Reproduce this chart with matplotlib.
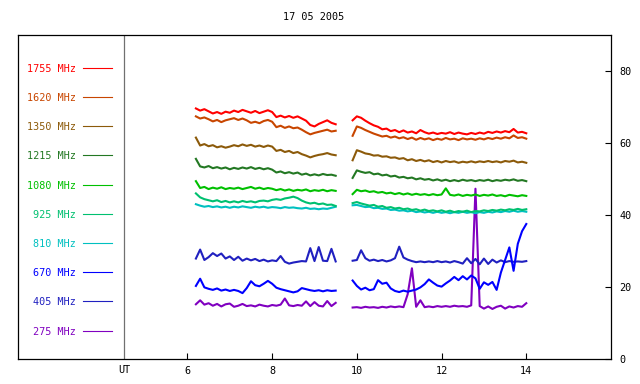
#flussi radio 17 05 2005
import numpy as np
import matplotlib
matplotlib.use("Agg")
import matplotlib.pyplot as plt

title = "17 05 2005"

freqs = ["1755", "1620", "1350", "1215", "1080", "925", "810", "670", "405", "275"]
colors = ["#ff0000", "#c84600", "#8c5a0a", "#237823", "#00c000",
          "#00c070", "#00c0c0", "#0000ff", "#2020c0", "#8000c0"]

#prima parte (6.2 - 9.5 UT), passo 0.1 h
t1_start, t1_end = 6.2, 9.5
#seconda parte (9.9 - 14.0 UT), passo 0.1 h
t2_start, t2_end = 9.9, 14.0

f1755_a = [69.6, 69.0, 69.4, 68.8, 68.2, 68.6, 68.1, 68.7, 68.4, 69.0,
           68.6, 69.2, 68.8, 68.4, 68.9, 68.3, 68.7, 69.1, 68.6, 67.2,
           67.6, 67.1, 67.5, 67.0, 67.4, 66.8, 66.2, 65.0, 64.6, 65.3,
           65.8, 66.3, 65.6, 65.2]
f1755_b = [66.3, 67.4, 67.0, 66.2, 65.5, 64.9, 64.5, 63.8, 64.0, 63.3,
           63.6, 63.0, 63.5, 62.9, 63.2, 62.7, 63.6, 63.0, 62.6, 62.9,
           62.5, 62.8, 62.6, 63.0, 62.5, 62.9, 62.6, 62.4, 62.8, 62.5,
           62.9, 62.6, 63.1, 62.8, 63.2, 62.9, 63.3, 63.0, 63.9, 62.9,
           63.1, 62.7]

f1620_a = [67.4, 66.8, 67.1, 66.6, 66.0, 66.4, 65.8, 66.3, 66.6, 66.9,
           66.4, 66.8, 66.3, 65.6, 65.9, 65.5, 66.1, 66.4, 65.9, 64.4,
           64.8, 64.2, 64.6, 64.1, 64.3, 63.7, 63.0, 62.4, 62.8, 63.1,
           63.4, 63.7, 63.2, 63.4]
f1620_b = [62.0, 64.6, 64.2, 63.6, 63.1, 62.6, 62.2, 61.8, 62.0, 61.5,
           61.8, 61.3, 61.6, 61.1, 61.5, 60.9, 61.4, 61.0, 61.3, 60.8,
           61.2, 60.9, 61.4, 61.0, 61.2, 60.8, 61.3, 61.0, 61.2, 60.9,
           61.3, 61.0, 61.4, 61.1, 61.5, 61.2, 61.6, 61.3, 62.1, 61.4,
           61.6, 61.2]

f1350_a = [61.5, 59.3, 59.7, 59.1, 59.4, 58.8, 59.1, 58.7, 59.0, 59.4,
           59.1, 59.6, 59.2, 59.5, 59.0, 59.3, 58.9, 59.3, 59.0, 57.8,
           58.1, 57.5, 57.8, 57.2, 57.5, 56.9, 56.5, 56.0, 56.4, 56.7,
           56.9, 57.2, 56.8, 56.6]
f1350_b = [55.2, 58.0, 57.6, 57.1, 56.9, 56.5, 56.6, 56.2, 56.3, 55.9,
           56.0, 55.6, 55.8, 55.2, 55.5, 55.0, 55.3, 54.9, 55.2, 54.7,
           55.0, 54.6, 55.0, 54.7, 54.9, 54.5, 54.8, 54.6, 54.9, 54.6,
           54.9, 54.7, 55.0, 54.7, 54.9, 54.6, 55.0, 54.8, 55.1, 54.6,
           54.8, 54.5]

f1215_a = [55.6, 53.5, 53.2, 53.6, 53.0, 53.3, 52.9, 53.2, 52.7, 53.1,
           52.8, 53.2, 52.9, 53.3, 52.8, 53.1, 52.7, 53.0, 52.6, 51.8,
           52.1, 51.6, 51.9, 51.5, 51.8, 51.2, 51.5, 51.0, 51.3, 51.0,
           51.4, 51.1, 51.2, 50.9]
f1215_b = [50.3, 52.4, 52.0, 51.7, 51.9, 51.3, 51.5, 51.0, 51.2, 50.7,
           50.9, 50.4, 50.6, 50.2, 50.4, 49.9, 50.2, 49.8, 50.0, 49.6,
           49.9, 49.5, 49.8, 49.4, 49.7, 49.4, 49.8, 49.5, 49.7, 49.4,
           49.7, 49.5, 49.8, 49.4, 49.7, 49.5, 49.8, 49.6, 49.9, 49.5,
           49.7, 49.4]

f1080_a = [49.4, 47.5, 47.8, 47.2, 47.6, 47.3, 47.7, 47.2, 47.5, 47.3,
           47.6, 47.2, 47.5, 47.8, 47.3, 47.6, 47.2, 47.5, 47.3, 46.9,
           47.2, 46.8, 47.1, 46.7, 47.0, 46.8, 47.1, 46.6, 46.9, 46.7,
           47.0, 46.6, 46.9, 46.7]
f1080_b = [45.8, 47.0, 46.6, 46.8, 46.4, 46.6, 46.2, 46.4, 46.0, 46.2,
           45.8, 46.1, 45.7, 46.0, 45.6, 45.9, 45.6, 45.8, 45.5, 45.8,
           45.5, 45.7, 47.4, 45.6, 45.4, 45.7, 45.3, 45.6, 45.4, 45.7,
           45.3, 45.6, 45.4, 45.7, 45.3, 45.5, 45.2, 45.6, 45.4, 45.2,
           45.5, 45.3]

f925_a = [46.0, 44.9, 44.4, 44.1, 43.8, 44.1, 43.6, 43.9, 43.5, 43.8,
          43.5, 43.9, 43.6, 43.8, 43.5, 43.9, 44.0, 43.8, 44.2, 44.4,
          44.2, 44.6, 44.8, 45.1, 44.7, 44.0, 43.5, 43.2, 43.4, 43.0,
          43.2, 42.8, 42.9, 42.5]
f925_b = [43.3, 43.6, 43.2, 42.9, 42.6, 42.8, 42.3, 42.5, 42.0, 42.2,
          41.8, 42.0, 41.6, 41.8, 41.4, 41.6, 41.2, 41.5, 41.1, 41.3,
          41.0, 41.3, 40.9, 41.2, 40.8, 41.1, 40.9, 41.2, 40.8, 41.1,
          41.0, 41.3, 41.1, 41.4, 41.2, 41.5, 41.3, 41.6, 41.4, 41.7,
          41.4, 41.6]

f810_a = [43.0, 42.6, 42.3, 42.5, 42.2, 42.4, 42.1, 42.3, 42.0, 42.3,
          42.1, 42.4, 42.2, 42.0, 42.3, 42.1, 42.3, 42.0, 42.2, 42.1,
          41.9, 42.2, 42.0, 42.1, 41.9, 41.8, 42.0, 41.7, 41.8, 41.6,
          41.8, 41.7, 42.0, 42.3]
f810_b = [42.7, 42.8, 42.5, 42.2, 42.3, 41.9, 42.0, 41.7, 41.8, 41.4,
          41.5, 41.2, 41.3, 41.0, 41.2, 40.8, 41.0, 40.7, 40.9, 40.6,
          40.9, 40.6, 40.8, 40.5, 40.8, 40.6, 40.9, 40.6, 40.8, 40.5,
          40.8, 40.6, 40.9, 40.7, 41.0, 40.8, 41.1, 40.9, 41.2, 40.9,
          41.1, 40.9]

f670_a = [20.3, 22.3, 19.9, 19.5, 19.2, 19.6, 19.0, 19.3, 18.9, 19.2,
          18.9, 18.3, 19.7, 21.6, 20.5, 20.2, 20.9, 21.7, 20.9, 19.8,
          19.4, 19.1, 18.8, 18.5, 18.8, 19.7, 19.4, 19.1, 18.9, 19.1,
          18.8, 19.1, 18.9, 19.0]
f670_b = [21.8, 20.3, 19.3, 19.8, 19.1, 19.4, 21.9, 20.9, 21.2, 19.6,
          18.9, 18.6, 19.0, 18.7, 19.0, 19.3, 19.9, 20.8, 22.1, 21.2,
          20.4, 20.1, 21.0, 21.8, 22.8, 21.9, 23.0, 22.1, 23.2, 22.4,
          19.5, 21.3, 20.6, 21.4, 19.2, 24.0, 27.5, 31.0, 24.5, 32.0,
          35.5, 37.5]

f405_a = [27.9, 30.4, 27.5, 28.3, 29.4, 28.6, 29.3, 27.9, 28.5, 27.5,
          28.4, 27.3, 27.9, 27.4, 27.8, 27.2, 27.6, 27.1, 27.4, 27.2,
          28.6, 27.0, 26.5, 26.8, 27.0, 27.2, 27.1, 30.8, 27.2, 31.1,
          27.3, 27.2, 30.6, 27.1]
f405_b = [27.3, 27.5, 30.2, 28.0, 27.3, 27.6, 27.2, 27.5, 27.1, 27.4,
          28.0, 31.2, 28.2, 27.6, 27.2, 26.9, 27.1, 26.9, 27.1, 26.9,
          27.2, 26.9, 27.1, 26.8, 27.2, 26.9, 26.5, 28.0, 26.6, 27.8,
          26.3, 27.9, 26.4, 27.6, 26.8, 27.4, 26.9, 27.2, 27.0, 27.1,
          27.0, 27.2]

f275_a = [15.2, 16.3, 15.1, 15.5, 14.8, 15.3, 14.6, 15.2, 15.4, 14.5,
          14.8, 15.3, 14.7, 14.9, 14.6, 15.1, 14.8, 14.6, 15.0, 14.8,
          15.1, 16.8, 14.9, 14.7, 15.0, 14.8, 16.0, 14.7, 15.8, 14.8,
          14.6, 16.1, 14.7, 15.6]
f275_b = [14.3, 14.4, 14.2, 14.5, 14.3, 14.4, 14.2, 14.5, 14.3, 14.6,
          14.4, 14.6, 14.4, 18.0, 25.2, 14.5, 16.3, 14.4, 14.6, 14.4,
          14.7, 14.5, 14.7, 14.5, 14.8, 14.6, 14.7, 14.5, 14.9, 47.3,
          14.7, 14.0, 14.6, 13.9, 14.5, 14.8, 14.0, 14.6, 14.3, 14.7,
          14.5, 15.5]

part_a = [f1755_a, f1620_a, f1350_a, f1215_a, f1080_a, f925_a, f810_a, f670_a, f405_a, f275_a]
part_b = [f1755_b, f1620_b, f1350_b, f1215_b, f1080_b, f925_b, f810_b, f670_b, f405_b, f275_b]

t1 = np.linspace(t1_start, t1_end, len(f1755_a))
t2 = np.linspace(t2_start, t2_end, len(f1755_b))

fig = plt.figure(figsize=(6.4, 3.84), dpi=100)
ax = fig.add_axes([18/640, 25/384, 593/640, 324/384])

font = dict(family="DejaVu Sans Mono", fontsize=7.3)

#disegno le curve, dal basso verso l'alto
for i in reversed(range(len(freqs))):
    ax.plot(t1, part_a[i], color=colors[i], lw=1.5)
    ax.plot(t2, part_b[i], color=colors[i], lw=1.5)

#legenda a sinistra (righe tra 81 e 8)
leg_y = np.linspace(80.9, 7.9, len(freqs))
for i, f in enumerate(freqs):
    y = leg_y[i]
    ax.text(3.37, y, f + " MHz", color=colors[i], ha="right", va="center_baseline", **font)
    ax.plot([3.53, 4.22], [y, y], color=colors[i], lw=0.8)

#linea UT
ax.axvline(4.5, color="#707070", lw=0.9)

ax.set_xlim(2, 16)
ax.set_ylim(0, 90)
ax.set_xticks([6, 8, 10, 12, 14])
ax.set_xticklabels(["6", "8", "10", "12", "14"], **font)
ax.set_yticks([0, 20, 40, 60, 80])
ax.set_yticklabels(["0", "20", "40", "60", "80"], **font)
ax.yaxis.tick_right()
ax.tick_params(axis="both", direction="in", length=4, width=0.8, pad=5)
ax.tick_params(axis="y", pad=6)
ax.text(4.5, -1.6, "UT", ha="center", va="top", **font)

for s in ax.spines.values():
    s.set_linewidth(0.9)

fig.text(314/640, 1 - 17/384, title, ha="center", va="center", **font)

plt.savefig("out.png", dpi=100)
